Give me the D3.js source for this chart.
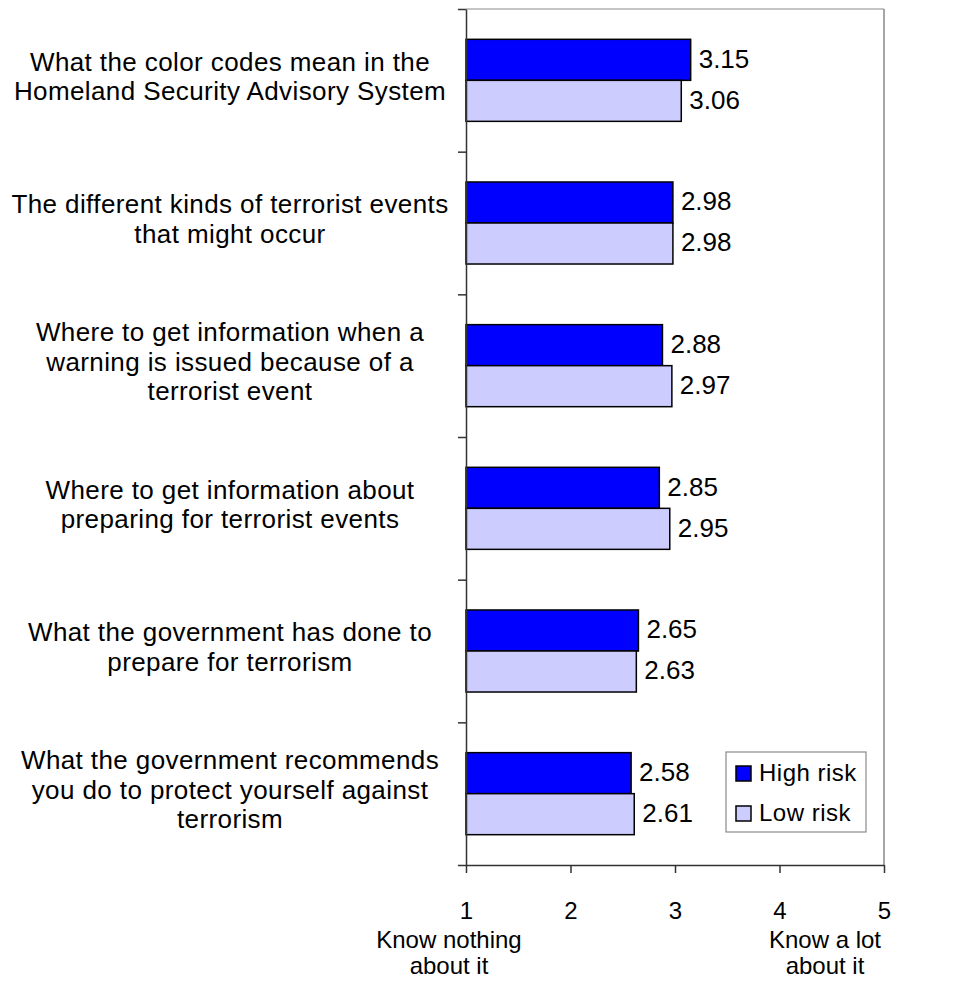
<!DOCTYPE html>
<html>
<head>
<meta charset="utf-8">
<script src="https://cdn.jsdelivr.net/npm/d3@7"></script>
<style>
body { margin: 0; background: #fff; }
svg text { font-family: "Liberation Sans", Arial, sans-serif; fill: #000; }
</style>
</head>
<body>
<div id="chart"></div>
<script>
var categories = [
    ["What the color codes mean in the", "Homeland Security Advisory System"],
    ["The different kinds of terrorist events", "that might occur"],
    ["Where to get information when a", "warning is issued because of a", "terrorist event"],
    ["Where to get information about", "preparing for terrorist events"],
    ["What the government has done to", "prepare for terrorism"],
    ["What the government recommends", "you do to protect yourself against", "terrorism"]
];
var highRisk = [3.15, 2.98, 2.88, 2.85, 2.65, 2.58];
var lowRisk = [3.06, 2.98, 2.97, 2.95, 2.63, 2.61];
var seriesNames = ["High risk", "Low risk"];
var seriesColors = ["#0000ff", "#ccccff"];
var xTicks = [1, 2, 3, 4, 5];
var xEndLabels = [["Know nothing", "about it"], ["Know a lot", "about it"]];

function init(){

    var w = 959;
    var h = 981;
    var left = 466, right = 884, top = 9, bottom = 865;

    var svg = d3.select("#chart")
                .append("svg")
                .attr("width", w)
                .attr("height", h)
                .style("display", "block");

    var xScale = d3.scaleLinear().domain([1, 5]).range([left, right]);

    var yScale = d3.scaleBand()
        .domain(d3.range(categories.length))
        .range([top, bottom])
        .paddingInner(0.425)
        .paddingOuter(0.2125);

    var sScale = d3.scaleBand().domain(seriesNames).range([0, yScale.bandwidth()]);

    var rows = categories.map(function(c, i){
        return {i: i, values: [highRisk[i], lowRisk[i]]};
    });

    // plot frame (top + right are grey)
    svg.append("line").attr("x1", left).attr("x2", right).attr("y1", top).attr("y2", top)
        .attr("stroke", "#8a8a8a").attr("stroke-width", 1.2);
    svg.append("line").attr("x1", right).attr("x2", right).attr("y1", top).attr("y2", bottom)
        .attr("stroke", "#8a8a8a").attr("stroke-width", 1.5);

    // bars
    var groups = svg.selectAll("g.row")
        .data(rows)
        .enter()
        .append("g")
        .attr("class", "row")
        .attr("transform", function(d){ return `translate(0,${yScale(d.i)})`; });

    groups.selectAll("rect")
        .data(function(d){ return d.values.map(function(v, k){ return {v: v, s: seriesNames[k], k: k}; }); })
        .enter()
        .append("rect")
        .attr("x", xScale(1))
        .attr("y", function(d){ return sScale(d.s); })
        .attr("width", function(d){ return xScale(d.v) - xScale(1); })
        .attr("height", sScale.bandwidth())
        .attr("fill", function(d){ return seriesColors[d.k]; })
        .attr("stroke", "#000")
        .attr("stroke-width", 1.5);

    groups.selectAll("text.val")
        .data(function(d){ return d.values.map(function(v, k){ return {v: v, s: seriesNames[k]}; }); })
        .enter()
        .append("text")
        .attr("class", "val")
        .text(function(d){ return d.v.toFixed(2); })
        .attr("x", function(d){ return xScale(d.v) + 8; })
        .attr("y", function(d){ return sScale(d.s) + sScale.bandwidth() / 2 + 8; })
        .attr("font-size", 26);

    // category axis (ticks between categories)
    var catAxisScale = d3.scaleLinear().domain([0, categories.length]).range([top, bottom]);
    var yAxis = d3.axisLeft(catAxisScale)
        .tickValues(d3.range(categories.length + 1))
        .tickFormat("")
        .tickSize(8)
        .tickSizeOuter(0);

    var gy = svg.append("g")
        .attr("transform", `translate(${left},0)`)
        .call(yAxis);
    gy.selectAll("path, line").attr("stroke", "#333").attr("stroke-width", 1.5);

    // category labels
    var lineH = 29.5;
    svg.append("g").selectAll("text")
        .data(rows)
        .enter()
        .append("text")
        .attr("text-anchor", "middle")
        .attr("font-size", 26)
        .attr("letter-spacing", 0.4)
        .each(function(d){
            var lines = categories[d.i];
            var cy = yScale(d.i) + yScale.bandwidth() / 2 + 5;
            var t = d3.select(this);
            lines.forEach(function(l, j){
                t.append("tspan")
                    .attr("x", 230)
                    .attr("y", cy + (j - (lines.length - 1) / 2) * lineH)
                    .text(l);
            });
        });

    // value axis
    var xAxis = d3.axisBottom(xScale)
        .tickValues(xTicks)
        .tickFormat(d3.format("d"))
        .tickSize(8)
        .tickSizeOuter(0)
        .tickPadding(29);

    var gx = svg.append("g")
        .attr("transform", `translate(0,${bottom})`)
        .call(xAxis);
    gx.selectAll("path, line").attr("stroke", "#333").attr("stroke-width", 1.5);
    gx.selectAll("text")
        .attr("font-size", 24)
        .attr("font-family", "Liberation Sans, Arial, sans-serif")
        .attr("fill", "#000");

    // end captions under the axis
    var capX = [xScale(1) - 17, xScale(5) - 59];
    svg.append("g").selectAll("text")
        .data(xEndLabels)
        .enter()
        .append("text")
        .attr("text-anchor", "middle")
        .attr("font-size", 24)
        .each(function(d, i){
            var t = d3.select(this);
            d.forEach(function(l, j){
                t.append("tspan")
                    .attr("x", capX[i])
                    .attr("y", 948 + j * 26)
                    .text(l);
            });
        });

    // legend
    var legend = svg.append("g").attr("transform", "translate(726,752)");
    legend.append("rect")
        .attr("width", 140).attr("height", 80)
        .attr("fill", "#fff")
        .attr("stroke", "#8a8a8a")
        .attr("stroke-width", 1.2);

    var items = legend.selectAll("g")
        .data(seriesNames)
        .enter()
        .append("g")
        .attr("transform", function(d, i){ return `translate(10,${14 + i * 40})`; });

    items.append("rect")
        .attr("width", 15).attr("height", 15)
        .attr("fill", function(d, i){ return seriesColors[i]; })
        .attr("stroke", "#000")
        .attr("stroke-width", 1.5);

    items.append("text")
        .text(function(d){ return d; })
        .attr("x", 23)
        .attr("y", 15)
        .attr("font-size", 24)
        .attr("letter-spacing", 0.5);
}
window.onload = init;
</script>
</body>
</html>
